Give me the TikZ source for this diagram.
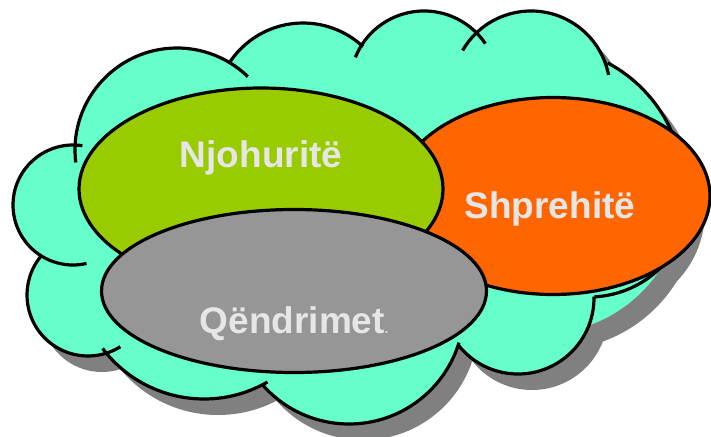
\documentclass[tikz,border=0pt]{standalone}
\usepackage{fontspec}
\setmainfont{Liberation Sans}
\usetikzlibrary{shapes.geometric}

\definecolor{cloudfill}{HTML}{66FFCC}
\definecolor{shadowgray}{HTML}{808080}
\definecolor{knowgreen}{HTML}{99CC00}
\definecolor{skillorange}{HTML}{FF6600}
\definecolor{attgray}{HTML}{969696}
\definecolor{wordgray}{HTML}{E6E6E6}

% cloud lobes: centre x / centre y / radius / start angle / end angle
\def\lobes{177/150/102/173/314, 303/111/88/214/313, 424/85/74/202/326,
  531/90/79/210/349, 540/190/144/298/370, 589/195/102/87/-20,
  518/298/76/142/-1, 349/309/115/139/17, 204/272/127/143/60,
  88/295/61/221/58, 73/205/60/279/77}

\newcommand{\cloudbody}[1]{%
  \fill[#1] (177,150) -- (303,111) -- (424,85) -- (531,90) -- (540,190) -- (589,195)
    -- (518,298) -- (349,309) -- (204,272) -- (88,295) -- (73,205) -- cycle;
  \fill[#1] \foreach \a/\b/\r/\s/\e in \lobes {(\a,\b) circle[radius=\r]};}

\begin{document}
\begin{tikzpicture}[x=1pt, y=-1pt, line width=3.2pt,
    blob/.style={ellipse, draw, inner sep=0pt},
    word/.style={text=wordgray, anchor=base, font=\fontsize{37}{37}\selectfont\bfseries}]
    \useasboundingbox (0,0) rectangle (711,436);
    % cloud with its shadow
    \cloudbody{shadowgray, shift={(14,16)}}
    \cloudbody{cloudfill}
    \foreach \a/\b/\r/\s/\e in \lobes
        \draw (\a,\b) ++(\s:\r) arc[start angle=\s, end angle=\e, radius=\r];

    % the three ellipses
    \node[blob, fill=skillorange, minimum width=314, minimum height=197] (skills) at (553,196) {};
    \node[blob, fill=knowgreen, minimum width=364, minimum height=202] (know) at (261,189) {};
    \node[blob, fill=attgray, minimum width=385, minimum height=163] (attitude) at (294,291) {};

    \node[word] (knowtext) at ([yshift=22pt]know.center) {Njohuritë};
    \node[word] (skillstext) at ([xshift=-3pt, yshift=-22pt]skills.center) {Shprehitë};
    \node[word] (attitudetext) at ([yshift=-42pt]attitude.center) {Qëndrimet{\fontsize{12}{12}\selectfont.}};
\end{tikzpicture}
\end{document}
